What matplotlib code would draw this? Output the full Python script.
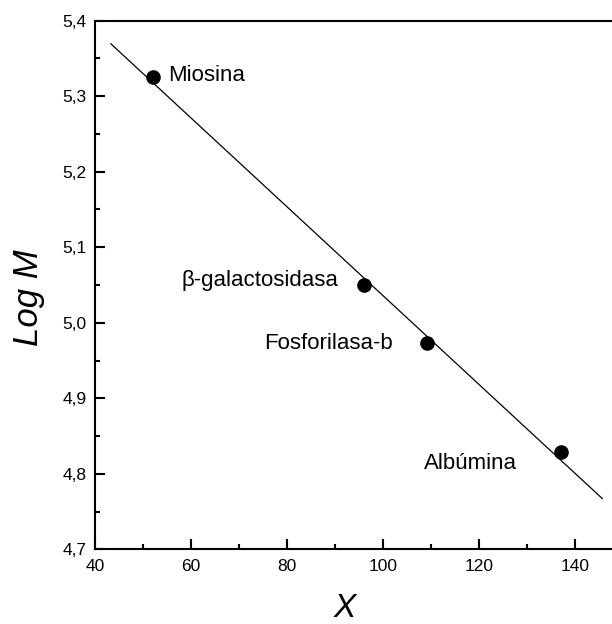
import numpy as np
import matplotlib
matplotlib.use("Agg")
import matplotlib.pyplot as plt
from matplotlib.ticker import MultipleLocator, FuncFormatter

plt.rcParams['font.family'] = ['Liberation Sans', 'DejaVu Sans']

# migration distance vs log of molecular mass for the marker proteins
proteins = ["Miosina", "β-galactosidasa", "Fosforilasa-b", "Albúmina"]
x_vals = [52.0, 96.0, 109.1, 137.1]
logm_vals = [5.326, 5.050, 4.973, 4.829]

# extent of the fitted line along x
fit_x_range = [43.3, 145.7]

# label offsets (points) and alignment for each protein name
label_offsets = [(11, 1), (-18, 3), (-24, 0), (-32, -8)]
label_ha = ["left", "right", "right", "right"]

fig = plt.figure(figsize=(6.12, 6.24), dpi=100)
ax = fig.add_axes([0.1552, 0.1197, 0.8627, 0.8471])

slope, intercept = np.polyfit(x_vals, logm_vals, 1)
xf = np.array(fit_x_range)
ax.plot(xf, slope * xf + intercept, color='black', lw=0.9)

ax.plot(x_vals, logm_vals, 'o', color='black', markersize=9.5)

for name, x, y, off, ha in zip(proteins, x_vals, logm_vals, label_offsets, label_ha):
    ax.annotate(name, (x, y), xytext=off, textcoords='offset points',
                ha=ha, va='center', fontsize=16)

ax.set_xlim(40, 150)
ax.set_ylim(4.7, 5.4)
ax.xaxis.set_major_locator(MultipleLocator(20))
ax.xaxis.set_minor_locator(MultipleLocator(10))
ax.yaxis.set_major_locator(MultipleLocator(0.1))
ax.yaxis.set_minor_locator(MultipleLocator(0.05))
ax.yaxis.set_major_formatter(FuncFormatter(lambda v, p: f"{v:.1f}".replace('.', ',')))

ax.tick_params(which='both', direction='in', width=1.5, top=False, right=False)
ax.tick_params(which='major', length=7, labelsize=12.5)
ax.tick_params(axis='x', which='major', pad=7)
ax.tick_params(axis='y', which='major', pad=6)
ax.tick_params(which='minor', length=3.6)
for s in ax.spines.values():
    s.set_linewidth(1.5)

ax.set_xlabel("X", fontsize=24, style='italic')
ax.set_ylabel("Log M", fontsize=25, style='italic')
ax.xaxis.set_label_coords(0.473, -0.083)
ax.yaxis.set_label_coords(-0.095, 0.477)

fig.savefig("out.png", dpi=100)
